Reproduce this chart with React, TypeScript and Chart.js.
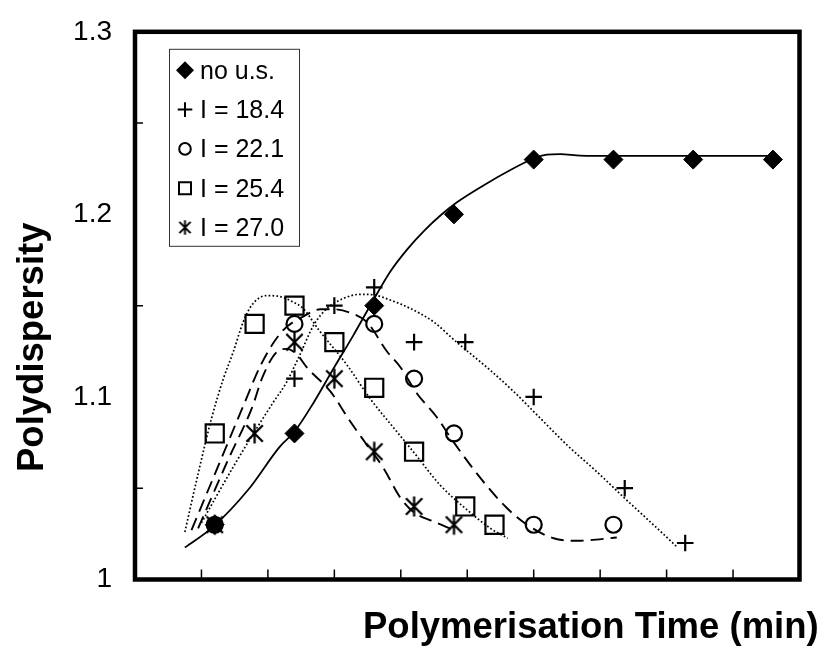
import { useEffect, useRef } from 'react';
import { Chart, registerables } from 'chart.js';

Chart.register(...registerables);

const FONT = '"Liberation Sans", Arial, Helvetica, sans-serif';

// Sampling times (min) and measured polydispersity for each run
const timeNoUS = [12, 24, 36, 48, 60, 72, 84, 96];
const pdiNoUS = [1.03, 1.08, 1.15, 1.2, 1.23, 1.23, 1.23, 1.23];

const time184 = [12, 24, 30, 36, 42, 49.7, 60, 73.7, 82.8];
const pdi184 = [1.03, 1.11, 1.15, 1.16, 1.13, 1.13, 1.1, 1.05, 1.02];

const time221 = [12, 24, 36, 42, 48, 60, 72];
const pdi221 = [1.03, 1.14, 1.14, 1.11, 1.08, 1.03, 1.03];

const time254 = [12, 18, 24, 30, 36, 42, 49.7, 54.1];
const pdi254 = [1.08, 1.14, 1.15, 1.13, 1.105, 1.07, 1.04, 1.03];

const time270 = [12, 18, 24, 30, 36, 42, 48];
const pdi270 = [1.03, 1.08, 1.13, 1.11, 1.07, 1.04, 1.03];

// Smoothed trend curves: [time, polydispersity]
const curveNoUS: [number, number][] = [
  [7.5, 1.0175], [11.8, 1.029], [17, 1.049], [21.8, 1.0728], [24, 1.081],
  [26.9, 1.097], [29.9, 1.1157], [32.9, 1.134], [35.6, 1.1513], [38.4, 1.1686],
  [41, 1.181], [43.5, 1.191], [46, 1.1995], [48.4, 1.2065], [52.5, 1.216],
  [56.5, 1.2243], [60, 1.2306], [62, 1.2327], [64, 1.233], [67, 1.2322],
  [72, 1.232], [84, 1.232], [96, 1.232],
];

const curve184: [number, number][] = [
  [10, 1.031], [12, 1.044], [15, 1.063], [18, 1.081], [20.8, 1.097],
  [22.8, 1.108], [24.8, 1.123], [26.9, 1.1394], [28.9, 1.1485], [31.4, 1.154],
  [33.9, 1.1562], [35.9, 1.1559], [38.4, 1.1531], [41.4, 1.1485], [44.9, 1.1412],
  [48.4, 1.13], [53.5, 1.1145], [57, 1.1029], [61, 1.0883], [65, 1.0737],
  [69.5, 1.059], [73.7, 1.0445], [79.1, 1.0263], [81.6, 1.0177],
];

const curve221: [number, number][] = [
  [8.5, 1.027], [12.5, 1.062], [16.4, 1.096], [19, 1.118], [22.1, 1.1358],
  [25.3, 1.144], [27.9, 1.148], [29.9, 1.148], [32.5, 1.146], [34.9, 1.141],
  [37.9, 1.125], [40, 1.116], [42.4, 1.102], [45.4, 1.089], [47.9, 1.0755],
  [52, 1.0555], [56, 1.039], [59, 1.03], [63, 1.0226], [66.5, 1.0212],
  [72.5, 1.023],
];

const curve254: [number, number][] = [
  [7.5, 1.026], [9.5, 1.058], [11.5, 1.088], [13.3, 1.11], [14.8, 1.1248],
  [16.3, 1.1412], [17.6, 1.1504], [19.8, 1.1555], [21.8, 1.155], [23.8, 1.152],
  [25.3, 1.1485], [27.6, 1.137], [31.9, 1.1175], [35.4, 1.099], [39.4, 1.081],
  [42.1, 1.069], [45.9, 1.0518], [49.7, 1.039], [53.5, 1.028], [56.1, 1.0226],
];

const curve270: [number, number][] = [
  [9.5, 1.028], [14, 1.0655], [17.6, 1.094], [19.2, 1.111], [21.3, 1.1245],
  [22.8, 1.1263], [24.3, 1.1235], [25.9, 1.116], [29.4, 1.103], [32.4, 1.0865],
  [34.9, 1.0737], [37.4, 1.061], [39.9, 1.045], [41.9, 1.037], [44.9, 1.0318],
  [47.9, 1.0272],
];

const seriesLabels = ['no u.s.', 'I = 18.4', 'I = 22.1', 'I = 25.4', 'I = 27.0'];
const yMinorTicks = [1.05, 1.15, 1.25];
const xTitle = 'Polymerisation Time (min)';
const yTitle = 'Polydispersity';

type Pt = { x: number; y: number };
const pts = (xs: number[], ys: number[]): Pt[] => xs.map((x, i) => ({ x, y: ys[i] }));
const curvePts = (c: [number, number][]): Pt[] => c.map(([x, y]) => ({ x, y }));

// Six-armed asterisk (X plus a vertical bar) used as a marker
function makeAsterisk(half: number, diag: number, lw: number): HTMLCanvasElement {
  const size = Math.ceil(half * 2 + lw * 2 + 2);
  const c = document.createElement('canvas');
  c.width = size;
  c.height = size;
  const g = c.getContext('2d')!;
  const m = size / 2;
  g.strokeStyle = '#000';
  g.lineWidth = lw;
  g.beginPath();
  g.moveTo(m, m - half);
  g.lineTo(m, m + half);
  g.moveTo(m - diag, m - diag);
  g.lineTo(m + diag, m + diag);
  g.moveTo(m - diag, m + diag);
  g.lineTo(m + diag, m - diag);
  g.stroke();
  return c;
}

function drawLegendMarker(
  ctx: CanvasRenderingContext2D,
  i: number,
  x: number,
  y: number,
  star: HTMLCanvasElement
) {
  ctx.save();
  ctx.strokeStyle = '#000';
  ctx.fillStyle = '#000';
  ctx.lineWidth = 2;
  ctx.beginPath();
  if (i === 0) {
    const r = 9;
    ctx.moveTo(x - r, y);
    ctx.lineTo(x, y - r);
    ctx.lineTo(x + r, y);
    ctx.lineTo(x, y + r);
    ctx.closePath();
    ctx.fill();
  } else if (i === 1) {
    const r = 7.3;
    ctx.moveTo(x - r, y);
    ctx.lineTo(x + r, y);
    ctx.moveTo(x, y - r);
    ctx.lineTo(x, y + r);
    ctx.stroke();
  } else if (i === 2) {
    ctx.arc(x, y, 5.8, 0, Math.PI * 2);
    ctx.stroke();
  } else if (i === 3) {
    ctx.rect(x - 6, y - 6, 12, 12);
    ctx.stroke();
  } else {
    ctx.drawImage(star, x - star.width / 2, y - star.height / 2);
  }
  ctx.restore();
}

export default function App() {
  const ref = useRef<HTMLCanvasElement | null>(null);

  useEffect(() => {
    const canvas = ref.current;
    if (!canvas) return;

    const plotStar = makeAsterisk(10, 8.2, 2.3);
    const legendStar = makeAsterisk(7.2, 5.6, 2);

    const framePlugin = {
      id: 'frame',
      afterDraw(chart: any) {
        const { ctx, chartArea: a, scales } = chart;
        const xs = scales.x;
        const ys = scales.y;
        ctx.save();

        // inward tick marks
        ctx.strokeStyle = '#000';
        ctx.lineWidth = 1.5;
        ctx.beginPath();
        xs.ticks.forEach((t: any) => {
          if (t.value <= xs.min || t.value >= xs.max) return;
          const px = xs.getPixelForValue(t.value);
          ctx.moveTo(px, a.bottom);
          ctx.lineTo(px, a.bottom - 10);
        });
        yMinorTicks.forEach((v) => {
          const py = ys.getPixelForValue(v);
          ctx.moveTo(a.left, py);
          ctx.lineTo(a.left + 8, py);
        });
        ctx.stroke();

        // heavy plot frame
        ctx.lineWidth = 4.5;
        ctx.strokeRect(a.left, a.top, a.right - a.left, a.bottom - a.top);

        // legend box
        const lx = a.left + 34;
        const ly = a.top + 17;
        const lw = 130;
        const lh = 197;
        ctx.fillStyle = '#fff';
        ctx.fillRect(lx, ly, lw, lh);
        ctx.strokeStyle = '#333';
        ctx.lineWidth = 1;
        ctx.strokeRect(lx + 0.5, ly + 0.5, lw, lh);
        ctx.font = `25px ${FONT}`;
        ctx.textAlign = 'left';
        ctx.textBaseline = 'alphabetic';
        seriesLabels.forEach((label, i) => {
          const ry = ly + 21.5 + i * 39.3;
          drawLegendMarker(ctx, i, lx + 16, ry, legendStar);
          ctx.fillStyle = '#000';
          ctx.fillText(label, lx + 31, ry + 8.3);
        });

        // axis titles
        ctx.fillStyle = '#000';
        ctx.font = `bold 36.5px ${FONT}`;
        ctx.textAlign = 'left';
        ctx.textBaseline = 'alphabetic';
        ctx.fillText(xTitle, 363, 638);
        ctx.save();
        ctx.translate(43, 472);
        ctx.rotate(-Math.PI / 2);
        ctx.fillText(yTitle, 0, 0);
        ctx.restore();

        ctx.restore();
      },
    };

    const curveBase = {
      showLine: true,
      pointRadius: 0,
      borderColor: '#000',
      cubicInterpolationMode: 'monotone' as const,
      fill: false,
      order: 1,
    };
    const markerBase = {
      showLine: false,
      borderColor: '#000',
      backgroundColor: 'rgba(0,0,0,0)',
      order: 0,
    };

    const chart = new Chart(canvas, {
      type: 'scatter',
      data: {
        datasets: [
          { ...curveBase, label: 'fit ' + seriesLabels[0], data: curvePts(curveNoUS), borderWidth: 1.8 },
          { ...curveBase, label: 'fit ' + seriesLabels[1], data: curvePts(curve184), borderWidth: 1.7, borderDash: [1.7, 2.2] },
          { ...curveBase, label: 'fit ' + seriesLabels[2], data: curvePts(curve221), borderWidth: 1.9, borderDash: [13, 7] },
          { ...curveBase, label: 'fit ' + seriesLabels[3], data: curvePts(curve254), borderWidth: 1.7, borderDash: [1.7, 2.2] },
          { ...curveBase, label: 'fit ' + seriesLabels[4], data: curvePts(curve270), borderWidth: 1.9, borderDash: [13, 7] },
          {
            ...markerBase,
            label: seriesLabels[0],
            data: pts(timeNoUS, pdiNoUS),
            pointStyle: 'rectRot',
            pointRadius: 9.5,
            backgroundColor: '#000',
            borderWidth: 1,
          },
          {
            ...markerBase,
            label: seriesLabels[1],
            data: pts(time184, pdi184),
            pointStyle: 'cross',
            pointRadius: 8.3,
            borderWidth: 2.2,
          },
          {
            ...markerBase,
            label: seriesLabels[2],
            data: pts(time221, pdi221),
            pointStyle: 'circle',
            pointRadius: 8,
            borderWidth: 2.2,
          },
          {
            ...markerBase,
            label: seriesLabels[3],
            data: pts(time254, pdi254),
            pointStyle: 'rect',
            pointRadius: 12.8,
            borderWidth: 2.2,
          },
          {
            ...markerBase,
            label: seriesLabels[4],
            data: pts(time270, pdi270),
            pointStyle: plotStar as any,
            pointRadius: 10,
          },
        ],
      },
      options: {
        animation: false,
        responsive: false,
        events: [],
        layout: { padding: { top: 20, right: 34.5, left: 0, bottom: 0 } },
        plugins: {
          legend: { display: false },
          tooltip: { enabled: false },
        },
        scales: {
          x: {
            type: 'linear',
            min: 0,
            max: 100,
            ticks: { stepSize: 10, display: false },
            grid: { display: false },
            border: { display: false },
            afterFit: (s: any) => {
              s.height = 82.5;
            },
          },
          y: {
            type: 'linear',
            min: 1,
            max: 1.3,
            ticks: {
              stepSize: 0.1,
              padding: 15,
              color: '#000',
              font: { family: FONT, size: 28 },
              callback: (v: any) => String(Math.round(Number(v) * 10) / 10),
            },
            grid: { display: false },
            border: { display: false },
            afterFit: (s: any) => {
              s.width = 135;
            },
          },
        },
      },
      plugins: [framePlugin],
    });

    return () => chart.destroy();
  }, []);

  return (
    <div style={{ position: 'fixed', left: 0, top: 0, width: 834, height: 662, background: '#fff' }}>
      <canvas ref={ref} width={834} height={662} style={{ display: 'block' }} />
    </div>
  );
}
